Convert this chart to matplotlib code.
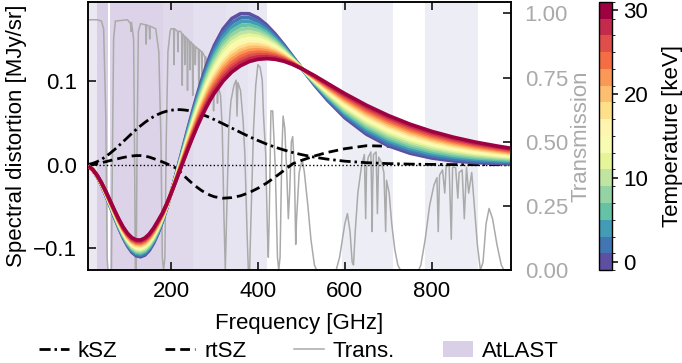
import numpy as np
import matplotlib
matplotlib.use("Agg")
import matplotlib.pyplot as plt
from matplotlib.colors import ListedColormap, BoundaryNorm
from matplotlib.lines import Line2D
from matplotlib.patches import Patch
import matplotlib.colorbar as mcolorbar

plt.rcParams['font.family'] = ['Liberation Sans', 'DejaVu Sans']
plt.rcParams['font.size'] = 16

# ---------------- data ----------------
freq = [10, 20, 30, 40, 50, 60, 70, 80, 90, 100, 110, 120, 130, 140, 150, 160, 170, 180,
        190, 200, 210, 220, 230, 240, 250, 260, 270, 280, 290, 300, 320, 340, 360, 380,
        400, 420, 440, 460, 480, 500, 530, 560, 600, 650, 700, 750, 800, 850, 900, 950, 980]

tsz_T0 = [-0.0017, -0.0065, -0.0142, -0.0244, -0.0364, -0.0495, -0.0628, -0.0757, -0.0874, -0.0971,
          -0.1046, -0.1089, -0.1101, -0.1080, -0.1025, -0.0938, -0.0823, -0.0683, -0.0521, -0.0341,
          -0.0147, 0.0051, 0.0253, 0.0452, 0.0645, 0.0829, 0.1003, 0.1161, 0.1304, 0.1430,
          0.1625, 0.1750, 0.1808, 0.1807, 0.1757, 0.1673, 0.1563, 0.1435, 0.1297, 0.1160,
          0.0956, 0.0774, 0.0563, 0.0365, 0.0228, 0.0138, 0.0081, 0.0046, 0.0026, 0.0015, 0.0010]

tsz_T30 = [-0.0015, -0.0057, -0.0125, -0.0214, -0.0318, -0.0430, -0.0543, -0.0650, -0.0745, -0.0820,
           -0.0872, -0.0898, -0.0900, -0.0876, -0.0828, -0.0757, -0.0670, -0.0580, -0.0470, -0.0345,
           -0.0212, -0.0075, 0.0063, 0.0198, 0.0328, 0.0452, 0.0568, 0.0675, 0.0772, 0.0858,
           0.1002, 0.1110, 0.1185, 0.1235, 0.1262, 0.1270, 0.1262, 0.1238, 0.1200, 0.1152,
           0.1068, 0.0975, 0.0852, 0.0712, 0.0590, 0.0486, 0.0400, 0.0330, 0.0272, 0.0225, 0.0200]

temperatures = [0, 2, 4, 6, 8, 10, 12, 14, 16, 18, 20, 22, 24, 26, 28, 30]
# relative position of each temperature's curve between the T=0 and T=30 curves (read at the peak)
temp_position = [0.0, 0.08, 0.157, 0.232, 0.305, 0.376, 0.445, 0.512, 0.578, 0.642,
                 0.704, 0.765, 0.825, 0.884, 0.942, 1.0]

ksz = [0.0004, 0.0017, 0.0037, 0.0064, 0.0098, 0.0138, 0.0181, 0.0228, 0.0277, 0.0326,
       0.0375, 0.0422, 0.0466, 0.0507, 0.0544, 0.0576, 0.0603, 0.0625, 0.0641, 0.0652,
       0.0659, 0.0660, 0.0656, 0.0649, 0.0637, 0.0623, 0.0605, 0.0585, 0.0564, 0.0540,
       0.0490, 0.0439, 0.0387, 0.0337, 0.0291, 0.0248, 0.0210, 0.0177, 0.0147, 0.0122,
       0.0091, 0.0067, 0.0043, 0.0025, 0.0014, 0.0008, 0.0004, 0.0002, 0.0001, 0.0001, 0.0000]

rtsz = [0.0000, 0.0006, 0.0014, 0.0025, 0.0037, 0.0050, 0.0063, 0.0075, 0.0087, 0.0097,
        0.0105, 0.0110, 0.0110, 0.0104, 0.0092, 0.0074, 0.0055, 0.0035, 0.0013, -0.0012,
        -0.0035, -0.0080, -0.0132, -0.0181, -0.0227, -0.0269, -0.0307, -0.0338, -0.0364, -0.0383,
        -0.0400, -0.0393, -0.0371, -0.0333, -0.0281, -0.0219, -0.0146, -0.0068, 0.0012, 0.0052,
        0.0105, 0.0148, 0.0192, 0.0228, 0.0222, 0.0200, 0.0175, 0.0150, 0.0126, 0.0105, 0.0094]

trans_freq = [9, 30, 40, 45, 50, 53, 55, 63, 65, 68,
              72, 100, 107, 108, 109, 114, 116, 118, 120, 122,
              125, 130, 142, 143, 144, 150, 151, 152, 165, 172,
              177, 180, 183, 186, 189, 193, 198, 200, 206, 207,
              208, 215, 216, 217, 222, 225, 226, 227, 231, 232,
              233, 237, 238, 239, 243, 244, 245, 249, 250, 251,
              255, 256, 257, 263, 264, 265, 270, 271, 272, 278,
              279, 280, 288, 289, 290, 297, 298, 299, 306, 307,
              308, 314, 318, 322, 325, 328, 333, 338, 345, 350,
              352, 354, 360, 366, 370, 375, 378, 381, 384, 390,
              395, 400, 405, 410, 413, 418, 422, 424, 426, 430,
              434, 440, 445, 448, 451, 455, 458, 462, 467, 470,
              473, 477, 480, 484, 487, 489, 495, 502, 507, 515,
              522, 530, 535, 580, 588, 600, 606, 612, 617, 620,
              624, 630, 638, 645, 648, 650, 654, 660, 663, 664,
              666, 672, 675, 676, 678, 684, 690, 694, 696, 702,
              708, 715, 722, 728, 770, 775, 785, 795, 805, 812,
              815, 818, 825, 830, 833, 840, 845, 848, 855, 860,
              863, 870, 875, 880, 885, 892, 898, 905, 912, 918,
              925, 932, 940, 950, 960, 966, 982]
trans_val = [0.975, 0.975, 0.97, 0.94, 0.6, 0.05, 0.0, 0.0, 0.4, 0.9,
             0.97, 0.975, 0.96, 0.93, 0.965, 0.9, 0.5, 0.0, 0.0, 0.5,
             0.93, 0.96, 0.955, 0.88, 0.955, 0.95, 0.90, 0.95, 0.94, 0.85,
             0.5, 0.05, 0.0, 0.05, 0.5, 0.85, 0.93, 0.94, 0.94, 0.80,
             0.94, 0.93, 0.85, 0.93, 0.93, 0.92, 0.72, 0.92, 0.91, 0.80,
             0.91, 0.90, 0.70, 0.90, 0.89, 0.78, 0.89, 0.88, 0.68, 0.88,
             0.87, 0.80, 0.87, 0.86, 0.70, 0.86, 0.85, 0.76, 0.85, 0.83,
             0.66, 0.83, 0.80, 0.72, 0.80, 0.78, 0.62, 0.77, 0.74, 0.65,
             0.72, 0.68, 0.55, 0.2, 0.0, 0.2, 0.55, 0.66, 0.72, 0.74,
             0.6, 0.73, 0.70, 0.58, 0.45, 0.15, 0.0, 0.0, 0.2, 0.55,
             0.72, 0.80, 0.79, 0.74, 0.6, 0.45, 0.15, 0.05, 0.2, 0.62,
             0.62, 0.4, 0.05, 0.0, 0.05, 0.45, 0.6, 0.55, 0.35, 0.2,
             0.3, 0.5, 0.52, 0.4, 0.1, 0.2, 0.38, 0.43, 0.38, 0.25,
             0.12, 0.02, 0.0, 0.0, 0.05, 0.18, 0.22, 0.15, 0.03, 0.02,
             0.15, 0.3, 0.40, 0.45, 0.2, 0.40, 0.44, 0.46, 0.15, 0.32,
             0.45, 0.46, 0.22, 0.3, 0.44, 0.42, 0.38, 0.15, 0.35, 0.3,
             0.18, 0.08, 0.02, 0.0, 0.0, 0.02, 0.12, 0.25, 0.33, 0.36,
             0.15, 0.37, 0.39, 0.30, 0.40, 0.41, 0.12, 0.40, 0.40, 0.28,
             0.38, 0.39, 0.20, 0.40, 0.3, 0.38, 0.25, 0.1, 0.0, 0.03,
             0.18, 0.24, 0.20, 0.1, 0.02, 0.0, 0.0]

band_lo = [8, 29, 59, 182, 251, 327, 378, 594, 784]
band_hi = [29, 55, 182, 251, 327, 378, 421, 712, 906]
band_colors = ['#ece8f2', '#d8cee6', '#dcd3e8', '#e0d9ec', '#e4e0ef', '#e7e4f1', '#eae8f3', '#ededf5', '#ededf5']

trans_ticks = [0.0, 0.25, 0.5, 0.75, 1.0]
cbar_ticks = [0, 10, 20, 30]

# ---------------- figure ----------------
fig = plt.figure(figsize=(6.82, 3.63), dpi=100)
ax = fig.add_axes([0.129, 0.256, 0.620, 0.739])
axt = ax.twinx()
ax.set_zorder(axt.get_zorder() + 1)
ax.patch.set_visible(False)

gray = '#aaaaaa'
for lo, hi, c in zip(band_lo, band_hi, band_colors):
    axt.axvspan(lo, hi, color=c, lw=0, zorder=0)
axt.plot(trans_freq, trans_val, color=gray, lw=1.1, zorder=1)
axt.set_ylim(0, 1.045)
axt.set_yticks(trans_ticks)
axt.set_yticklabels([f"{t:.2f}" for t in trans_ticks], color=gray)
axt.set_ylabel('Transmission', color=gray, labelpad=2)
axt.tick_params(axis='y', direction='in', length=6, width=1.1, colors='k', labelcolor=gray, pad=10)

ax.axhline(0, color='k', ls=':', lw=1.0, zorder=1)
ax.plot(freq, ksz, color='k', lw=2.0, ls=(0, (4.0, 1.4, 0.9, 1.4)), zorder=2)
ax.plot(freq, rtsz, color='k', lw=2.0, ls=(0, (3.5, 1.8)), zorder=2)

n = len(temperatures)
cmap_full = plt.get_cmap('Spectral_r')
colors = [cmap_full(i / (n - 1)) for i in range(n)]
t0 = np.array(tsz_T0)
t30 = np.array(tsz_T30)
for i, (T, p) in enumerate(zip(temperatures, temp_position)):
    ax.plot(freq, (1 - p) * t0 + p * t30, color=colors[i], lw=2.6, zorder=3 + i,
            solid_capstyle='butt')

ax.set_xlim(9, 982)
ax.set_ylim(-0.126, 0.195)
ax.set_xticks([200, 400, 600, 800])
ax.set_yticks([-0.1, 0.0, 0.1])
ax.set_yticklabels(['\u22120.1', '0.0', '0.1'])
ax.tick_params(direction='in', length=6, width=1.1, top=True)
ax.tick_params(axis='x', pad=8)
ax.tick_params(axis='y', pad=8)
ax.set_xlabel('Frequency [GHz]', labelpad=8)
ax.set_ylabel('Spectral distortion [MJy/sr]', labelpad=4)
for a in (ax, axt):
    for s in a.spines.values():
        s.set_linewidth(1.1)

# colorbar
cax = fig.add_axes([0.879, 0.256, 0.018, 0.739])
cmap = ListedColormap(colors)
bounds = np.arange(-1, 32, 2)
norm = BoundaryNorm(bounds, cmap.N)
cb = mcolorbar.ColorbarBase(cax, cmap=cmap, norm=norm, ticks=cbar_ticks, orientation='vertical')
cb.set_label('Temperature [keV]', labelpad=10)
cb.outline.set_linewidth(1.0)
cax.tick_params(length=4.5, width=1.1, pad=4)

# legend
handles = [Line2D([], [], color='k', lw=2.0, ls=(0, (4.0, 1.4, 0.9, 1.4))),
           Line2D([], [], color='k', lw=2.0, ls=(0, (3.5, 1.8))),
           Line2D([], [], color=gray, lw=1.1),
           Patch(facecolor='#d9d0e8', edgecolor='none')]
labels = ['kSZ', 'rtSZ', 'Trans.', 'AtLAST']
fig.legend(handles, labels, loc='center', ncol=4, frameon=False,
           bbox_to_anchor=(0.438, 0.033), columnspacing=2.15, handlelength=1.35,
           handletextpad=0.4, borderpad=0.0, borderaxespad=0.0)

fig.savefig('out.png', dpi=100)
